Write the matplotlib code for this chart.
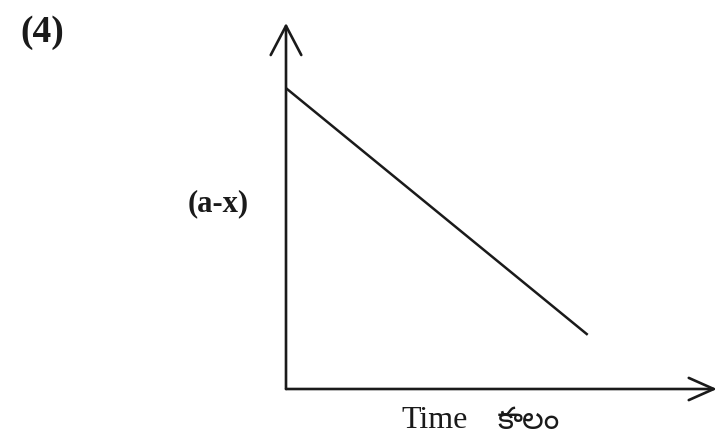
import matplotlib
matplotlib.use("Agg")
import matplotlib.pyplot as plt

# Data
time = [0.0, 7.0]
conc = [8.22, 1.48]
panel_label = "(4)"
y_label = "(a-x)"
x_label = "Time"
x_label_te = "కాలం"

W, H = 725, 438
fig = plt.figure(figsize=(W / 100, H / 100), dpi=100)
fig.patch.set_facecolor("white")

x0, y0 = 286, 389   # origin in pixels
x1, y1 = 717, 23    # arrow tips
ax = fig.add_axes([x0 / W, 1 - y0 / H, (x1 - x0) / W, (y0 - y1) / H])
ax.set_xlim(0, 10)
ax.set_ylim(0, 10)
ax.axis("off")

ax.plot(time, conc, color="#1a1a1a", lw=1.8, solid_capstyle="butt")

arrow_y = dict(arrowstyle="->,head_length=2.1,head_width=1.1", color="#1a1a1a", lw=1.9,
               shrinkA=0, shrinkB=0)
arrow_x = dict(arrowstyle="->,head_length=1.8,head_width=0.8", color="#1a1a1a", lw=1.9,
               shrinkA=0, shrinkB=0)
ax.annotate("", xy=(0, 1), xytext=(0, 0), xycoords="axes fraction", arrowprops=arrow_y, annotation_clip=False)
ax.annotate("", xy=(1, 0), xytext=(0, 0), xycoords="axes fraction", arrowprops=arrow_x, annotation_clip=False)

fig.text(42 / W, 1 - 33 / H, panel_label, fontsize=27, fontweight="bold", family="Liberation Serif",
         ha="center", va="center", color="#1a1a1a")
fig.text(218 / W, 1 - 204 / H, y_label, fontsize=22, fontweight="bold", family="Liberation Serif",
         ha="center", va="center", color="#1a1a1a")
fig.text(435 / W, 1 - 421 / H, x_label, fontsize=23, family="Liberation Serif",
         ha="center", va="center", color="#1a1a1a")
fig.text(529 / W, 1 - 421 / H, x_label_te, fontsize=22, family=["Noto Sans Telugu", "Noto Sans", "DejaVu Sans"],
         ha="center", va="center", color="#1a1a1a")

fig.savefig("out.png", dpi=100, facecolor="white")
